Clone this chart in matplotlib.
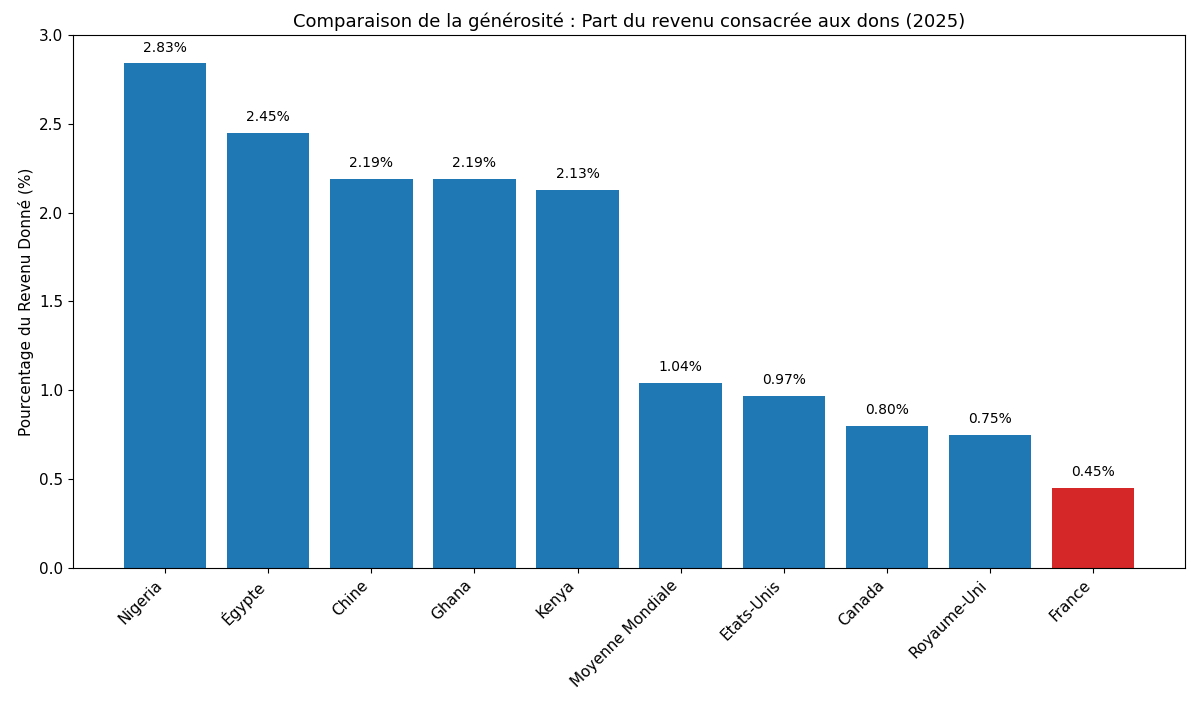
import matplotlib
matplotlib.use('Agg')
import matplotlib.pyplot as plt

countries = ['Nigeria', 'Égypte', 'Chine', 'Ghana', 'Kenya', 'Moyenne Mondiale',
             'Etats-Unis', 'Canada', 'Royaume-Uni', 'France']
values = [2.84, 2.45, 2.19, 2.19, 2.13, 1.04, 0.97, 0.80, 0.75, 0.45]
labels = ['2.83%', '2.45%', '2.19%', '2.19%', '2.13%', '1.04%', '0.97%', '0.80%', '0.75%', '0.45%']
highlight = 'France'

colors = ['#d62728' if c == highlight else '#1f77b4' for c in countries]

fig = plt.figure(figsize=(12, 7.01), dpi=100)
ax = fig.add_axes([0.061, 0.19, 0.9265, 0.76])
bars = ax.bar(countries, values, color=colors, width=0.8)

for b, lab in zip(bars, labels):
    ax.text(b.get_x() + b.get_width() / 2, b.get_height() + 0.05, lab,
            ha='center', va='bottom', fontsize=10)

ax.set_ylim(0, 3.0)
ax.set_ylabel('Pourcentage du Revenu Donné (%)', fontsize=11)
ax.set_title('Comparaison de la générosité : Part du revenu consacrée aux dons (2025)', fontsize=13)
plt.setp(ax.get_xticklabels(), rotation=45, ha='right', fontsize=11)
ax.tick_params(axis='y', labelsize=11)

fig.savefig('out.png', dpi=100)
